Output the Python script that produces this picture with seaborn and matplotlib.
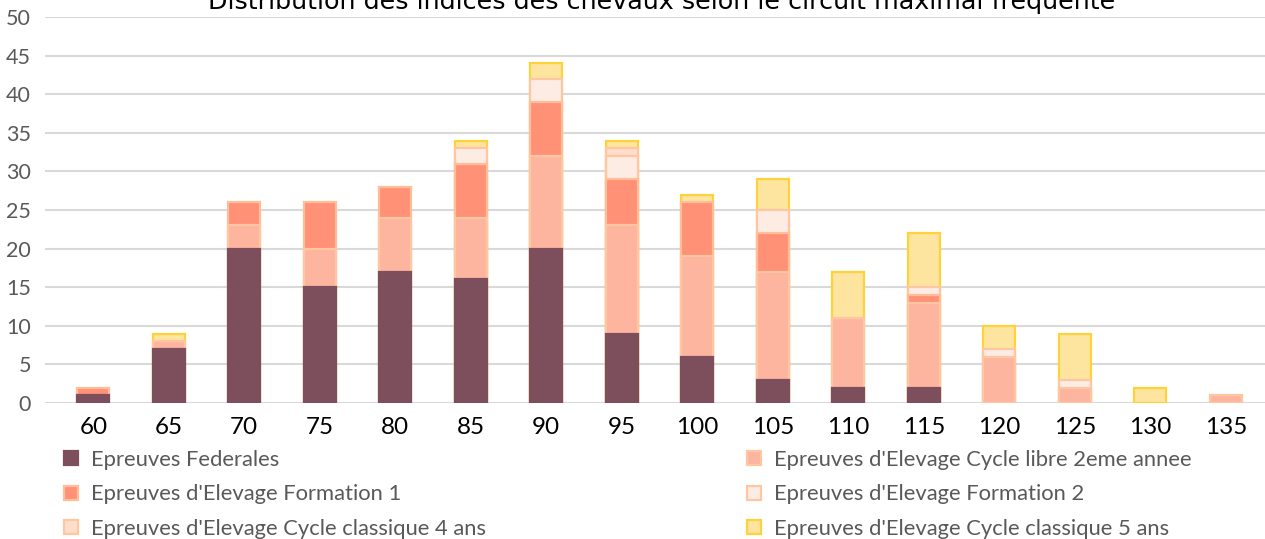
"""Stacked bar chart: distribution of horse indices by highest circuit attended."""

import matplotlib
matplotlib.use("Agg")
import matplotlib.pyplot as plt
from matplotlib.patches import Patch
import numpy as np
import pandas as pd
import seaborn as sns

# Data
indices = ["60", "65", "70", "75", "80", "85", "90", "95",
           "100", "105", "110", "115", "120", "125", "130", "135"]
federales = [1, 7, 20, 15, 17, 16, 20, 9, 6, 3, 2, 2, 0, 0, 0, 0]
libre_2eme = [0, 1, 3, 5, 7, 8, 12, 14, 13, 14, 9, 11, 6, 2, 0, 1]
formation_1 = [1, 0, 3, 6, 4, 7, 7, 6, 7, 5, 0, 1, 0, 0, 0, 0]
formation_2 = [0, 0, 0, 0, 0, 2, 3, 3, 0, 3, 0, 1, 1, 1, 0, 0]
classique_4 = [0, 0, 0, 0, 0, 0, 0, 1, 0, 0, 0, 0, 0, 0, 0, 0]
classique_5 = [0, 1, 0, 0, 0, 1, 2, 1, 1, 4, 6, 7, 3, 6, 2, 0]

series_names = [
    "Epreuves Federales",
    "Epreuves d'Elevage Cycle libre 2eme annee",
    "Epreuves d'Elevage Formation 1",
    "Epreuves d'Elevage Formation 2",
    "Epreuves d'Elevage Cycle classique 4 ans",
    "Epreuves d'Elevage Cycle classique 5 ans",
]
fill_colors = ["#7D4F5C", "#FDB5A0", "#FF9177", "#FDECE4", "#FFDDCB", "#FDE59F"]
edge_colors = ["#7D4F5C", "#FFC6A2", "#FFBE98", "#FFC6A2", "#FFC6A2", "#FFD23C"]

title = "Distribution des indices des chevaux selon le circuit maximal frequente"

sns.set_theme(style="white")
plt.rcParams["font.family"] = ["Lato", "DejaVu Sans"]

values = np.array([federales, libre_2eme, formation_1,
                   formation_2, classique_4, classique_5], dtype=float)
cumulative = values.cumsum(axis=0)

fig = plt.figure(figsize=(12.65, 5.39), dpi=100)
ax = fig.add_axes([45 / 1265, 1 - 403 / 539, 1220 / 1265, 386 / 539])

# Draw cumulative totals from the top layer down so each layer hides the one above
for k in range(len(series_names) - 1, -1, -1):
    df = pd.DataFrame({"indice": indices, "total": cumulative[k]})
    df.loc[values[k] == 0, "total"] = 0
    sns.barplot(data=df, x="indice", y="total", order=indices, ax=ax,
                color=fill_colors[k], saturation=1, width=0.424,
                edgecolor=edge_colors[k], linewidth=1.6, zorder=3)

# hide empty segments that would still draw an edge line at 0
for patch in ax.patches:
    if patch.get_height() == 0:
        patch.set_visible(False)

ax.set_ylim(0, 50)
ax.set_xlim(-0.64, 15.52)
ax.set_yticks(range(0, 51, 5))
ax.yaxis.grid(True, color="#D9D9D9", linewidth=1.5, zorder=0)
ax.set_axisbelow(True)
for side in ["top", "right", "left", "bottom"]:
    ax.spines[side].set_visible(False)
ax.set_xlabel("")
ax.set_ylabel("")
ax.tick_params(axis="y", length=0, pad=10, labelsize=15.5, labelcolor="#595959")
ax.tick_params(axis="x", length=0, pad=10, labelsize=17.5, labelcolor="#000000")

# legend filled row by row like the original (matplotlib fills by column)
order = [0, 2, 4, 1, 3, 5]
handles = [Patch(facecolor=fill_colors[k], edgecolor=edge_colors[k],
                 linewidth=1.6, label=series_names[k])
           for k in order]
fig.legend(handles=handles, ncol=2, loc="upper left",
           bbox_to_anchor=(64 / 1265, 1 - 450 / 539),
           frameon=False, fontsize=15.8, labelcolor="#595959",
           handlelength=0.62, handleheight=0.62, handletextpad=0.6,
           labelspacing=0.66, columnspacing=11.9, borderaxespad=0,
           borderpad=0)

fig.text(0.523, 1 - 9 / 539, title, ha="center", va="baseline",
         fontsize=18.3, color="#000000", family=["DejaVu Sans"])

fig.savefig("out.png", dpi=100)
